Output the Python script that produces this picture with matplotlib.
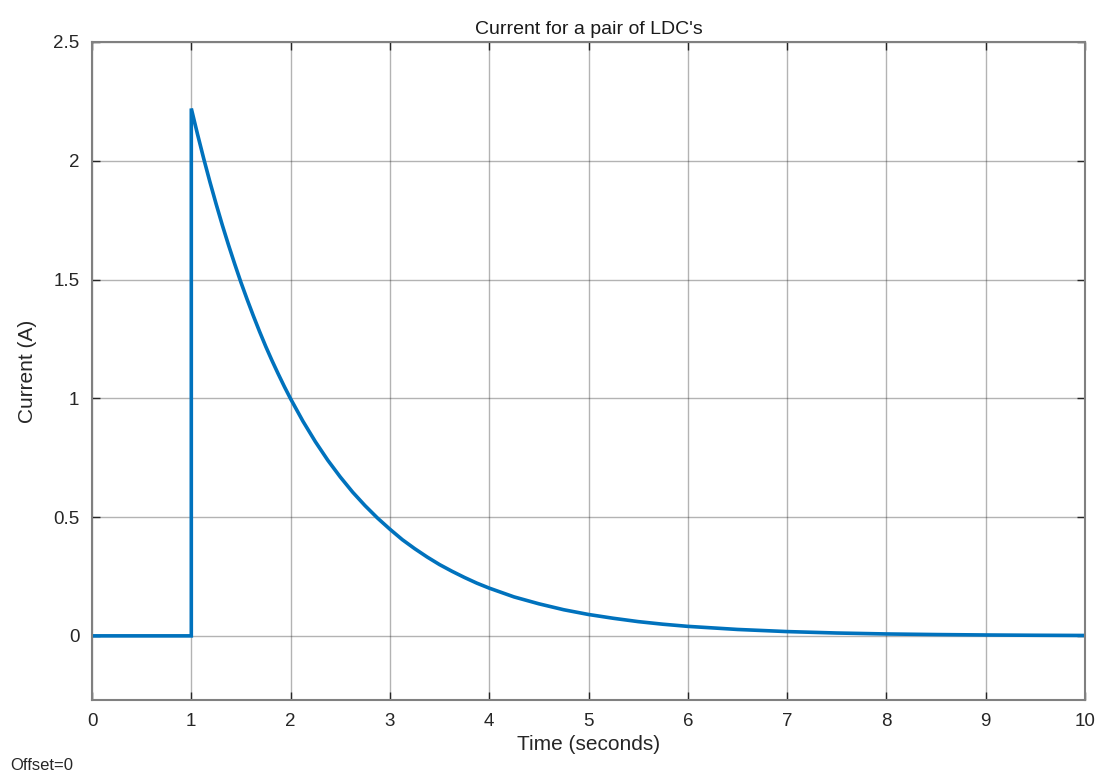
import numpy as np
import matplotlib.pyplot as plt

plt.rcParams['font.family'] = ['Liberation Sans', 'DejaVu Sans']

# Time (s) and current (A)
time = [0, 1, 1, 1.0625, 1.125, 1.1875, 1.25, 1.3125, 1.375, 1.4375, 1.5,
        1.5625, 1.625, 1.6875, 1.75, 1.8125, 1.875, 1.9375, 2.0,
        2.125, 2.25, 2.375, 2.5, 2.625, 2.75, 2.875, 3.0,
        3.125, 3.25, 3.375, 3.5, 3.625, 3.75, 3.875, 4.0,
        4.25, 4.5, 4.75, 5.0, 5.25, 5.5, 5.75, 6.0,
        6.5, 7.0, 7.5, 8.0, 8.5, 9.0, 9.5, 10.0]
current = [0, 0, 2.22, 2.112, 2.009, 1.911, 1.818, 1.729, 1.645, 1.565, 1.488,
           1.416, 1.347, 1.281, 1.218, 1.159, 1.103, 1.049, 0.998,
           0.903, 0.817, 0.739, 0.669, 0.605, 0.548, 0.496, 0.449,
           0.405, 0.367, 0.332, 0.300, 0.272, 0.246, 0.222, 0.201,
           0.164, 0.135, 0.110, 0.090, 0.074, 0.060, 0.049, 0.040,
           0.027, 0.018, 0.012, 0.008, 0.0055, 0.0037, 0.0025, 0.0016]

x_ticks = [0, 1, 2, 3, 4, 5, 6, 7, 8, 9, 10]
y_ticks = [0, 0.5, 1, 1.5, 2, 2.5]

fig = plt.figure(figsize=(11.07, 7.77), dpi=100)
ax = fig.add_axes([92 / 1107, 1 - 700 / 777, (1085 - 92) / 1107, (700 - 42) / 777])

ax.plot(time, current, color='#0072BD', linewidth=2.6, solid_joinstyle='miter')

ax.set_xlim(0, 10)
ax.set_ylim(-0.27, 2.5)
ax.set_xticks(x_ticks)
ax.set_yticks(y_ticks)
ax.set_yticklabels(['0', '0.5', '1', '1.5', '2', '2.5'])
ax.grid(True, color='#262626', alpha=0.35, linewidth=1)
ax.tick_params(direction='in', top=True, right=True, length=6, width=1,
               colors='#262626', labelsize=13.5, pad=9)
for s in ax.spines.values():
    s.set_color('#808080')
    s.set_linewidth(1.5)

ax.set_title("Current for a pair of LDC's", fontsize=14, color='#1a1a1a', pad=6)
ax.set_xlabel('Time (seconds)', fontsize=15, color='#262626', labelpad=4)
ax.set_ylabel('Current (A)', fontsize=15, color='#262626', labelpad=12)

fig.text(10 / 1107, 1 - 765 / 777, 'Offset=0', fontsize=12, color='#262626', va='center')

fig.savefig('out.png', dpi=100)
